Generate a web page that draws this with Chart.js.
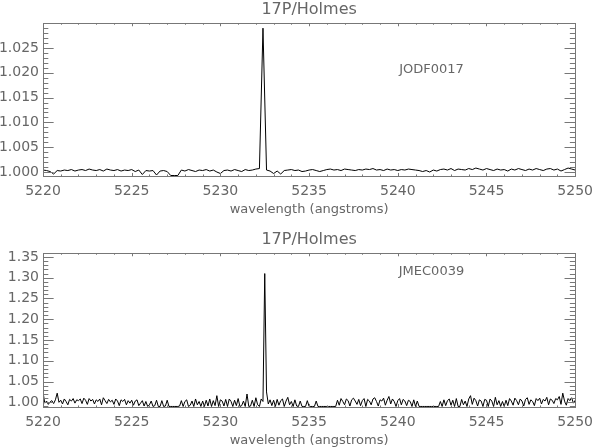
<!DOCTYPE html>
<html>
<head>
<meta charset="utf-8">
<script src="https://cdn.jsdelivr.net/npm/chart.js@4"></script>
<style>
  body { margin: 0; background: #fff; }
  .panel { position: absolute; left: 0; width: 600px; }
  #topPanel { top: 0; height: 217px; }
  #botPanel { top: 217px; height: 231px; }
</style>
</head>
<body>
<div class="panel" id="topPanel"><canvas id="topChart"></canvas></div>
<div class="panel" id="botPanel"><canvas id="botChart"></canvas></div>
<script>
// spectra sampled on a regular wavelength grid (start, step)
const topStart = 5220, topStep = 0.2;
const topFlux = [
  1.0004,1.0003,1.0001,0.9996,1.0003,1.0002,1.0004,1.0003,1.0005,1.0002,
  1.0004,1.0005,1.0003,1.0006,1.0004,1.0003,1.0005,1.0002,1.0006,1.0004,
  1.0003,1.0005,1.0002,1.0004,1.0003,1.0005,1.0001,1.0004,0.9995,1.0003,
  1.0002,1.0003,0.9994,1.0002,1.0003,1.0001,0.9993,0.9993,0.9993,1.0004,
  1.0002,1.0005,1.0003,1.0001,1.0004,1.0003,1.0005,1.0002,1.0004,1.0000,
  0.9997,1.0003,1.0004,1.0002,1.0005,1.0003,1.0001,1.0005,1.0003,1.0004,
  1.0006,1.0007,1.0290,1.0004,1.0002,0.9997,1.0002,0.9996,1.0003,1.0004,
  1.0005,1.0003,1.0004,1.0001,1.0002,1.0004,1.0005,1.0003,1.0001,1.0003,
  1.0005,1.0006,1.0004,1.0005,1.0003,1.0006,1.0005,1.0004,1.0003,1.0005,
  1.0004,1.0006,1.0005,1.0007,1.0004,1.0005,1.0003,1.0006,1.0004,1.0005,
  1.0003,1.0005,1.0004,1.0006,1.0005,1.0004,1.0003,1.0001,1.0003,1.0000,
  1.0004,1.0002,1.0005,1.0006,1.0004,1.0007,1.0003,1.0006,1.0005,1.0004,
  1.0007,1.0005,1.0008,1.0006,1.0004,1.0007,1.0005,1.0003,1.0006,1.0004,
  1.0005,1.0002,1.0006,1.0004,1.0007,1.0005,1.0003,1.0006,1.0004,1.0007,
  1.0005,1.0003,1.0006,1.0007,1.0004,1.0006,1.0002,1.0005,1.0008,1.0006,1.0004
];

const botStart = 5220, botStep = 0.1;
const botFlux = [
  1.025,0.998,1.003,0.995,1.001,1.004,0.997,1.006,1.022,1.000,
  1.005,0.996,1.008,1.002,0.994,1.007,1.003,1.009,0.998,1.006,
  1.004,1.008,0.997,1.010,1.005,0.995,1.009,1.003,1.007,0.996,
  1.006,1.002,1.008,0.994,1.011,1.004,0.997,1.007,1.001,1.005,
  0.995,1.008,1.003,0.992,1.006,1.002,1.007,0.994,1.004,0.998,
  1.005,0.993,1.003,1.006,0.992,0.998,1.004,0.991,1.002,0.990,
  0.994,1.003,0.990,0.992,1.005,0.990,0.990,1.004,0.990,0.991,
  1.005,0.990,0.990,0.990,0.990,0.990,0.990,0.991,1.004,0.990,
  1.002,1.006,0.990,0.993,1.003,0.990,1.008,0.994,1.002,0.990,
  1.003,0.990,1.005,0.991,1.008,0.990,1.004,0.992,1.016,0.990,
  1.006,1.003,0.991,1.007,0.990,1.008,1.002,0.990,1.005,0.992,
  1.009,0.990,0.992,1.003,0.990,1.020,0.990,0.991,1.005,0.990,
  1.011,0.994,0.990,1.008,1.002,1.310,1.025,0.996,1.006,0.992,
  1.005,0.990,1.007,0.993,1.004,1.008,0.990,1.003,1.012,0.994,
  1.002,0.990,1.006,0.991,0.990,1.003,0.990,0.990,0.990,1.004,
  0.990,0.990,0.990,0.990,1.003,0.990,0.990,0.990,0.990,0.990,
  0.990,0.990,0.990,0.990,0.990,0.990,1.005,0.993,1.009,1.002,
  0.994,1.008,1.004,0.991,1.006,1.010,1.003,0.995,1.007,0.992,
  1.004,1.009,0.990,1.007,1.003,0.994,1.008,1.011,1.002,0.991,
  1.006,1.003,1.010,0.993,1.005,1.014,0.996,1.008,1.002,0.990,
  1.004,1.009,0.994,1.007,1.003,0.992,1.005,1.002,0.990,1.006,
  0.990,1.003,0.990,0.990,0.990,0.990,0.990,0.990,0.990,0.990,
  0.990,0.990,0.990,0.990,1.002,0.990,1.006,0.992,1.004,1.008,
  0.993,1.005,0.990,1.009,0.990,0.990,1.007,0.994,1.003,0.990,
  1.008,1.016,0.995,1.010,1.004,0.991,1.006,1.003,0.990,1.007,
  1.005,0.990,1.008,1.003,0.990,1.012,0.994,1.004,0.990,1.002,
  0.990,1.005,0.992,1.009,1.003,0.993,1.010,1.004,0.994,1.008,
  1.003,0.991,1.007,1.011,0.995,1.006,1.002,0.992,1.009,1.004,
  1.010,0.996,1.007,1.003,1.012,0.994,1.008,1.005,0.997,1.009,
  1.006,1.014,0.995,1.022,1.003,0.993,1.009,1.004,1.011,0.998,
  1.005
];

const xTicks = [5220, 5225, 5230, 5235, 5240, 5245, 5250];
const topYTicks = [1.000, 1.005, 1.010, 1.015, 1.020, 1.025];
const botYTicks = [1.00, 1.05, 1.10, 1.15, 1.20, 1.25, 1.30, 1.35];

const axisColor = '#777';
const textColor = '#666';
Chart.defaults.font.family = "'DejaVu Sans', sans-serif";
Chart.defaults.color = textColor;

// IDL-style box: inward major/minor ticks on all four sides, plus the plot label
const idlFrame = {
  id: 'idlFrame',
  afterDatasetsDraw(chart, args, opts) {
    const { ctx, chartArea: a } = chart;
    const xs = chart.scales.x, ys = chart.scales.y;
    ctx.save();
    ctx.strokeStyle = axisColor;
    ctx.lineWidth = 1;
    ctx.strokeRect(Math.round(a.left) + 0.5, Math.round(a.top) + 0.5,
      Math.round(a.right - a.left), Math.round(a.bottom - a.top));

    ctx.beginPath();
    const xMajLen = 0.02 * (a.bottom - a.top);
    for (let v = xs.min, i = 0; v <= xs.max + 1e-9; v = xs.min + (++i) * opts.xMinor) {
      const len = i % opts.xPer === 0 ? xMajLen : xMajLen / 2;
      const px = Math.round(xs.getPixelForValue(v)) + 0.5;
      ctx.moveTo(px, a.bottom); ctx.lineTo(px, a.bottom - len);
      ctx.moveTo(px, a.top); ctx.lineTo(px, a.top + len);
    }
    const yMajLen = 0.02 * (a.right - a.left);
    const y0 = opts.yTicks[0];
    for (let i = -20; i < 200; i++) {
      const v = y0 + i * opts.yMinor;
      if (v < ys.min || v > ys.max) continue;
      const len = ((i % opts.yPer) + opts.yPer) % opts.yPer === 0 ? yMajLen : yMajLen / 2;
      const py = Math.round(ys.getPixelForValue(v)) + 0.5;
      ctx.moveTo(a.left, py); ctx.lineTo(a.left + len, py);
      ctx.moveTo(a.right, py); ctx.lineTo(a.right - len, py);
    }
    ctx.stroke();

    ctx.fillStyle = textColor;
    ctx.font = "13px 'DejaVu Sans', sans-serif";
    ctx.textAlign = 'center';
    ctx.textBaseline = 'middle';
    ctx.fillText(opts.label, xs.getPixelForValue(opts.labelAt[0]), ys.getPixelForValue(opts.labelAt[1]));
    ctx.restore();
  }
};

function makeChart(id, start, step, flux, yTicks, yMin, yMax, dec, titlePad, frame) {
  const points = flux.map((f, i) => ({ x: start + i * step, y: f }));
  return new Chart(document.getElementById(id), {
    type: 'line',
    data: {
      datasets: [{
        data: points,
        borderColor: '#000',
        borderWidth: 1,
        pointRadius: 0,
        tension: 0,
        fill: false
      }]
    },
    options: {
      responsive: true,
      maintainAspectRatio: false,
      animation: false,
      devicePixelRatio: 1,
      events: [],
      layout: { padding: { left: 0, right: 17, top: 0, bottom: 0 } },
      plugins: {
        legend: { display: false },
        tooltip: { enabled: false },
        title: {
          display: true,
          text: '17P/Holmes',
          fullSize: false,
          color: textColor,
          font: { size: 16, weight: 'normal', lineHeight: 1.2 },
          padding: titlePad
        },
        idlFrame: frame
      },
      scales: {
        x: {
          type: 'linear',
          min: 5220,
          max: 5250,
          afterFit: s => { s.height = 41; },
          afterBuildTicks: s => { s.ticks = xTicks.map(v => ({ value: v })); },
          grid: { display: false, drawTicks: false },
          border: { display: false },
          ticks: { padding: 7, font: { size: 14 }, color: textColor, callback: v => String(v) },
          title: {
            display: true,
            text: 'wavelength (angstroms)',
            color: textColor,
            font: { size: 13, lineHeight: 1.2 },
            padding: { top: 0, bottom: 0 }
          }
        },
        y: {
          min: yMin,
          max: yMax,
          afterFit: s => { s.width = 43; },
          afterBuildTicks: s => { s.ticks = yTicks.map(v => ({ value: v })); },
          grid: { display: false, drawTicks: false },
          border: { display: false },
          ticks: { padding: 4, font: { size: 14 }, color: textColor, callback: v => Number(v).toFixed(dec) }
        }
      }
    },
    plugins: [idlFrame]
  });
}

makeChart('topChart', topStart, topStep, topFlux, topYTicks, 0.9992, 1.0300, 3,
  { top: 0, bottom: 4 },
  { xMinor: 1, xPer: 5, yMinor: 0.001, yPer: 5, yTicks: topYTicks, label: 'JODF0017', labelAt: [5241.9, 1.0207] });

makeChart('botChart', botStart, botStep, botFlux, botYTicks, 0.9887, 1.359, 2,
  { top: 13, bottom: 4 },
  { xMinor: 1, xPer: 5, yMinor: 0.01, yPer: 5, yTicks: botYTicks, label: 'JMEC0039', labelAt: [5241.9, 1.314] });
</script>
</body>
</html>
